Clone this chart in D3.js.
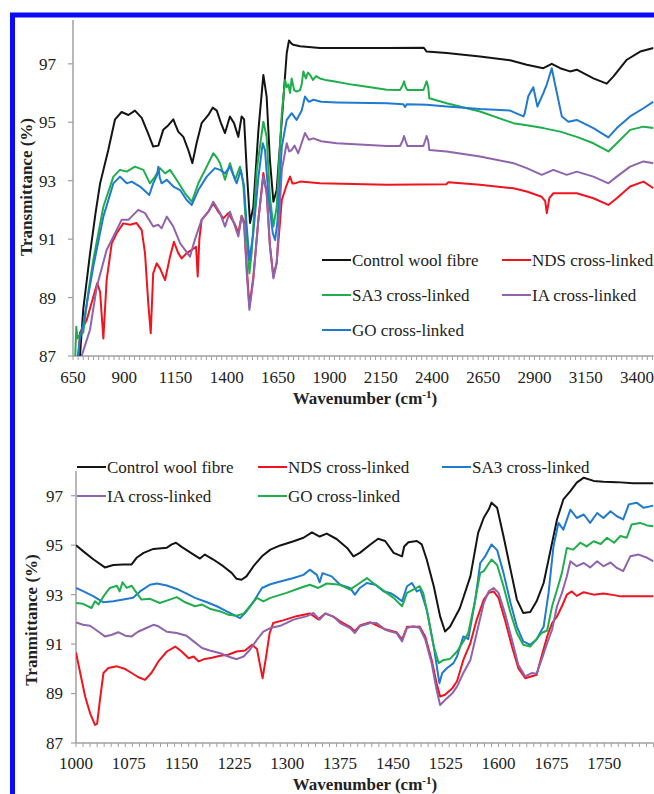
<html>
<script src="https://cdnjs.cloudflare.com/ajax/libs/d3/7.8.5/d3.min.js"></script>
<style>
    body { margin: 0; background: #fff; }
</style>

<body>
    <script>
        var width = 654;
        var height = 794;
        var serif = "'Liberation Serif', 'DejaVu Serif', serif";

        // series names + colours (top and bottom panels use different colour mapping)
        var topNames = ["Control wool fibre", "NDS cross-linked", "SA3 cross-linked", "IA cross-linked", "GO cross-linked"];
        var bottomNames = ["Control wool fibre", "NDS cross-linked", "SA3 cross-linked", "IA cross-linked", "GO cross-linked"];
        var black = "#141414", red = "#f0141e", green = "#1fae4c", blue = "#1f7ad0", purple = "#9064ac";
        var topColors = [black, red, green, purple, blue];
        var bottomColors = [black, red, blue, purple, green];

        var topXTicks = [650, 900, 1150, 1400, 1650, 1900, 2150, 2400, 2650, 2900, 3150, 3400];
        var bottomXTicks = [1000, 1075, 1150, 1225, 1300, 1375, 1450, 1525, 1600, 1675, 1750];
        var yTicks = [87, 89, 91, 93, 95, 97];

        // top panel, [wavenumber, transmittance]
        var topControl = [[650, 84], [684, 87], [700, 88.6], [733, 90.5], [760, 91.9], [782, 92.9], [822, 94.05], [855, 95.1], [887, 95.35], [920, 95.25], [952, 95.4], [985, 95.15], [1017, 94.6], [1041, 94.17], [1066, 94.2], [1090, 94.74], [1115, 94.9], [1139, 95.1], [1150, 94.9], [1163, 94.68], [1188, 94.5], [1212, 94.05], [1232, 93.6], [1253, 94.3], [1277, 94.97], [1310, 95.25], [1331, 95.5], [1351, 95.4], [1370, 95.0], [1391, 94.63], [1415, 95.2], [1435, 94.97], [1456, 94.5], [1472, 95.2], [1484, 95.1], [1497, 93.37], [1513, 91.55], [1529, 92.1], [1554, 94.74], [1578, 96.62], [1594, 95.88], [1610, 93.7], [1627, 92.28], [1643, 92.68], [1668, 95.08], [1692, 97.37], [1703, 97.8], [1714, 97.7], [1724, 97.65], [1757, 97.6], [1854, 97.54], [2180, 97.54], [2360, 97.55], [2374, 97.42], [2472, 97.37], [2634, 97.25], [2781, 97.12], [2862, 96.97], [2943, 96.85], [2984, 97.0], [3025, 96.85], [3073, 96.74], [3106, 96.8], [3187, 96.5], [3252, 96.32], [3285, 96.57], [3350, 97.14], [3415, 97.42], [3480, 97.54]];
        var topNDS = [[660, 85], [684, 87.8], [717, 88.23], [749, 89.03], [768, 89.49], [782, 89.2], [798, 87.6], [814, 89.6], [839, 90.86], [863, 91.2], [895, 91.54], [928, 91.49], [960, 91.55], [985, 91.31], [1001, 90.52], [1017, 88.8], [1029, 87.78], [1041, 89.83], [1058, 90.17], [1074, 90.0], [1099, 89.6], [1123, 90.4], [1142, 90.91], [1163, 90.52], [1180, 90.34], [1204, 90.52], [1229, 90.63], [1250, 90.74], [1258, 89.72], [1266, 91.0], [1277, 91.66], [1310, 91.94], [1334, 92.23], [1358, 91.94], [1383, 91.71], [1407, 91.89], [1440, 91.5], [1456, 91.2], [1472, 91.8], [1484, 91.6], [1497, 90.06], [1510, 88.69], [1529, 89.7], [1554, 91.7], [1578, 93.26], [1594, 92.6], [1610, 90.8], [1627, 89.72], [1643, 90.2], [1668, 92.34], [1692, 92.86], [1708, 93.14], [1720, 92.9], [1733, 92.91], [1757, 92.97], [1854, 92.91], [2180, 92.86], [2470, 92.88], [2480, 92.95], [2634, 92.86], [2797, 92.74], [2862, 92.63], [2935, 92.45], [2952, 92.3], [2960, 91.89], [2972, 92.4], [2992, 92.57], [3106, 92.57], [3187, 92.4], [3260, 92.17], [3301, 92.4], [3366, 92.8], [3431, 92.97], [3480, 92.74]];
        var topSA3 = [[655, 85], [662, 87.2], [666, 88.0], [672, 87.6], [680, 87.7], [700, 87.8], [725, 89.2], [749, 90.29], [798, 92.11], [847, 93.14], [879, 93.37], [912, 93.31], [952, 93.48], [993, 93.37], [1025, 92.91], [1050, 93.14], [1074, 93.43], [1099, 93.25], [1123, 93.37], [1155, 93.03], [1196, 92.57], [1229, 92.28], [1261, 92.91], [1302, 93.48], [1334, 93.94], [1350, 93.8], [1367, 93.6], [1391, 93.03], [1415, 93.6], [1440, 93.03], [1464, 93.48], [1480, 92.91], [1497, 91.09], [1510, 89.83], [1521, 90.52], [1546, 93.37], [1578, 95.02], [1594, 94.5], [1610, 92.45], [1627, 91.43], [1643, 92.11], [1668, 95.31], [1684, 96.45], [1692, 96.2], [1700, 96.3], [1708, 96.0], [1716, 96.5], [1728, 96.1], [1740, 96.05], [1757, 96.1], [1765, 96.3], [1773, 96.74], [1785, 96.5], [1795, 96.7], [1806, 96.62], [1820, 96.45], [1835, 96.58], [1854, 96.5], [1880, 96.45], [1920, 96.4], [2017, 96.28], [2100, 96.2], [2180, 96.11], [2244, 96.1], [2256, 96.25], [2264, 96.4], [2272, 96.2], [2280, 96.1], [2358, 96.1], [2366, 96.25], [2374, 96.4], [2382, 96.2], [2387, 95.82], [2472, 95.65], [2634, 95.37], [2797, 94.97], [2862, 94.9], [2943, 94.8], [3025, 94.68], [3106, 94.5], [3187, 94.28], [3260, 94.0], [3301, 94.28], [3366, 94.74], [3431, 94.85], [3480, 94.8]];
        var topIA = [[670, 85], [692, 87], [733, 87.9], [766, 89.37], [814, 90.63], [855, 91.2], [887, 91.66], [920, 91.66], [968, 92.0], [1001, 91.89], [1041, 91.43], [1066, 91.49], [1082, 91.37], [1107, 91.77], [1139, 91.43], [1172, 90.86], [1196, 90.63], [1220, 90.4], [1245, 91.0], [1277, 91.66], [1310, 91.94], [1334, 92.28], [1367, 91.89], [1391, 91.43], [1415, 91.94], [1440, 91.43], [1456, 91.09], [1472, 91.77], [1484, 91.5], [1497, 89.83], [1510, 88.58], [1529, 89.6], [1554, 91.66], [1578, 93.14], [1594, 92.57], [1610, 90.74], [1627, 89.66], [1643, 90.17], [1668, 93.37], [1692, 94.28], [1704, 94.0], [1716, 94.05], [1730, 94.2], [1748, 93.94], [1765, 94.3], [1781, 94.63], [1800, 94.4], [1822, 94.45], [1860, 94.35], [1936, 94.28], [2180, 94.19], [2244, 94.19], [2256, 94.35], [2264, 94.53], [2272, 94.35], [2280, 94.19], [2358, 94.19], [2366, 94.35], [2374, 94.53], [2382, 94.35], [2387, 94.05], [2472, 94.0], [2634, 93.83], [2797, 93.6], [2862, 93.43], [2935, 93.2], [2992, 93.37], [3057, 93.2], [3106, 93.31], [3187, 93.14], [3260, 92.91], [3301, 93.14], [3366, 93.48], [3431, 93.66], [3480, 93.6]];
        var topGO = [[660, 85], [670, 86.8], [684, 87.6], [700, 88.1], [749, 90.06], [798, 91.77], [847, 92.91], [879, 93.14], [912, 92.91], [936, 92.97], [977, 92.8], [1022, 92.51], [1041, 92.91], [1060, 93.2], [1066, 93.48], [1073, 93.1], [1082, 92.91], [1107, 93.03], [1139, 92.8], [1172, 92.68], [1204, 92.34], [1229, 92.17], [1261, 92.68], [1302, 93.14], [1342, 93.43], [1367, 93.37], [1391, 93.25], [1415, 93.48], [1448, 92.91], [1468, 93.37], [1484, 92.8], [1497, 91.43], [1510, 90.29], [1529, 91.2], [1554, 93.14], [1575, 94.28], [1586, 94.05], [1603, 92.45], [1624, 91.2], [1635, 90.97], [1646, 91.55], [1668, 94.17], [1692, 95.08], [1716, 95.31], [1740, 95.08], [1765, 95.4], [1781, 95.88], [1800, 95.7], [1822, 95.77], [1860, 95.7], [1936, 95.68], [2180, 95.65], [2260, 95.62], [2269, 95.52], [2278, 95.62], [2374, 95.6], [2472, 95.54], [2634, 95.45], [2781, 95.4], [2846, 95.2], [2852, 95.3], [2870, 95.9], [2894, 96.2], [2914, 95.54], [2943, 96.0], [2960, 96.3], [2984, 96.85], [3000, 96.3], [3033, 95.2], [3065, 95.02], [3106, 95.08], [3187, 94.8], [3260, 94.48], [3301, 94.8], [3366, 95.2], [3431, 95.48], [3480, 95.71]];

        // bottom panel (zoomed 1000-1820)
        var botControl = [[1000, 95.0], [1010, 94.76], [1025, 94.42], [1041, 94.1], [1053, 94.2], [1067, 94.22], [1079, 94.22], [1086, 94.49], [1096, 94.69], [1110, 94.85], [1129, 94.9], [1136, 95.03], [1142, 95.1], [1150, 94.93], [1167, 94.62], [1176, 94.46], [1183, 94.62], [1195, 94.42], [1209, 94.15], [1221, 93.88], [1228, 93.64], [1235, 93.6], [1242, 93.74], [1252, 94.15], [1264, 94.55], [1276, 94.82], [1290, 94.99], [1309, 95.16], [1323, 95.3], [1335, 95.52], [1346, 95.35], [1356, 95.47], [1370, 95.25], [1385, 94.89], [1394, 94.55], [1403, 94.69], [1418, 95.03], [1429, 95.26], [1439, 95.17], [1451, 94.69], [1463, 94.55], [1466, 94.95], [1472, 95.12], [1484, 95.17], [1491, 95.03], [1498, 94.42], [1508, 93.34], [1517, 92.12], [1524, 91.51], [1531, 91.7], [1545, 92.45], [1560, 93.74], [1571, 95.5], [1579, 96.11], [1586, 96.44], [1590, 96.72], [1598, 96.51], [1607, 95.36], [1617, 94.01], [1626, 92.8], [1635, 92.26], [1645, 92.3], [1654, 92.73], [1664, 93.47], [1673, 94.69], [1683, 96.04], [1692, 96.85], [1702, 97.19], [1711, 97.53], [1721, 97.73], [1735, 97.6], [1749, 97.57], [1768, 97.55], [1791, 97.5], [1820, 97.5]];
        var botNDS = [[1000, 90.66], [1006, 89.83], [1013, 88.88], [1020, 88.2], [1027, 87.73], [1030, 87.78], [1034, 88.74], [1039, 89.83], [1046, 90.03], [1058, 90.1], [1070, 89.99], [1079, 89.83], [1088, 89.67], [1098, 89.55], [1107, 89.83], [1117, 90.3], [1129, 90.7], [1141, 90.9], [1150, 90.7], [1160, 90.43], [1167, 90.5], [1174, 90.3], [1183, 90.4], [1193, 90.45], [1205, 90.53], [1216, 90.57], [1228, 90.7], [1240, 90.74], [1250, 90.97], [1257, 90.8], [1261, 90.2], [1265, 89.62], [1270, 90.5], [1275, 91.45], [1280, 91.85], [1294, 91.96], [1313, 92.13], [1332, 92.24], [1344, 92.0], [1354, 92.24], [1366, 92.1], [1375, 91.92], [1389, 91.7], [1396, 91.52], [1403, 91.75], [1418, 91.88], [1439, 91.6], [1455, 91.48], [1463, 91.18], [1470, 91.7], [1488, 91.7], [1496, 91.3], [1505, 90.36], [1512, 89.42], [1517, 88.88], [1524, 88.95], [1534, 89.2], [1541, 89.5], [1550, 90.36], [1560, 91.04], [1569, 91.99], [1579, 92.8], [1586, 93.07], [1593, 93.13], [1600, 92.87], [1609, 91.99], [1619, 90.9], [1628, 90.03], [1638, 89.62], [1647, 89.7], [1654, 89.75], [1661, 90.5], [1669, 91.31], [1676, 91.85], [1683, 92.12], [1690, 92.53], [1697, 93.0], [1704, 93.13], [1711, 92.95], [1721, 93.1], [1735, 93.0], [1749, 93.05], [1764, 92.98], [1773, 92.93], [1791, 92.93], [1820, 92.93]];
        var botSA3 = [[1000, 93.27], [1010, 93.14], [1025, 92.93], [1039, 92.69], [1053, 92.73], [1067, 92.8], [1081, 92.87], [1091, 93.13], [1105, 93.4], [1115, 93.45], [1129, 93.37], [1143, 93.23], [1155, 93.07], [1169, 92.87], [1186, 92.69], [1200, 92.53], [1214, 92.32], [1228, 92.12], [1233, 92.05], [1242, 92.32], [1254, 92.8], [1264, 93.27], [1276, 93.42], [1290, 93.53], [1309, 93.67], [1323, 93.8], [1332, 94.01], [1342, 93.8], [1346, 93.5], [1350, 93.87], [1363, 93.74], [1375, 93.4], [1389, 93.27], [1396, 93.0], [1403, 93.27], [1413, 93.47], [1425, 93.4], [1437, 93.13], [1446, 93.07], [1453, 92.95], [1463, 92.73], [1470, 93.34], [1477, 93.47], [1484, 93.13], [1489, 93.2], [1498, 92.39], [1508, 90.9], [1516, 89.42], [1520, 89.83], [1527, 90.03], [1536, 90.23], [1541, 90.5], [1550, 91.31], [1557, 91.2], [1567, 92.8], [1574, 94.28], [1581, 94.55], [1590, 95.03], [1598, 94.8], [1607, 93.88], [1617, 92.66], [1626, 91.71], [1635, 91.11], [1645, 90.97], [1654, 91.2], [1664, 91.71], [1671, 93.07], [1678, 94.96], [1685, 95.9], [1692, 95.63], [1702, 96.44], [1711, 96.1], [1721, 96.24], [1730, 95.9], [1740, 96.3], [1749, 96.1], [1759, 96.37], [1768, 96.17], [1777, 96.04], [1785, 96.65], [1796, 96.72], [1806, 96.51], [1820, 96.6]];
        var botIA = [[1000, 91.88], [1010, 91.78], [1020, 91.74], [1032, 91.5], [1041, 91.31], [1051, 91.38], [1060, 91.48], [1070, 91.34], [1079, 91.31], [1088, 91.5], [1100, 91.65], [1110, 91.78], [1117, 91.72], [1129, 91.5], [1143, 91.45], [1157, 91.34], [1167, 91.11], [1179, 90.84], [1190, 90.74], [1205, 90.63], [1216, 90.5], [1228, 90.39], [1238, 90.5], [1247, 90.77], [1257, 91.18], [1266, 91.5], [1276, 91.65], [1290, 91.74], [1309, 91.99], [1328, 92.13], [1337, 92.26], [1346, 91.99], [1354, 92.24], [1366, 92.1], [1375, 91.85], [1389, 91.65], [1396, 91.45], [1403, 91.72], [1418, 91.85], [1427, 91.85], [1439, 91.58], [1448, 91.5], [1455, 91.45], [1463, 91.11], [1470, 91.65], [1479, 91.72], [1488, 91.65], [1496, 91.18], [1505, 90.23], [1512, 89.15], [1517, 88.54], [1524, 88.74], [1534, 89.0], [1541, 89.28], [1550, 89.83], [1560, 90.36], [1569, 91.45], [1579, 92.66], [1586, 93.13], [1593, 93.27], [1600, 93.07], [1609, 92.26], [1619, 91.18], [1628, 90.16], [1638, 89.69], [1647, 89.83], [1654, 89.8], [1661, 90.36], [1669, 91.04], [1676, 91.58], [1683, 92.53], [1690, 93.07], [1697, 93.74], [1702, 94.35], [1711, 94.15], [1721, 94.28], [1730, 94.1], [1740, 94.35], [1749, 94.15], [1759, 94.3], [1768, 94.08], [1777, 93.95], [1787, 94.55], [1799, 94.62], [1811, 94.49], [1820, 94.35]];
        var botGO = [[1000, 92.66], [1010, 92.63], [1022, 92.46], [1027, 92.73], [1032, 92.6], [1039, 92.93], [1048, 93.27], [1058, 93.36], [1062, 93.13], [1066, 93.5], [1072, 93.27], [1079, 93.36], [1086, 93.07], [1093, 92.8], [1105, 92.83], [1119, 92.66], [1133, 92.8], [1143, 92.9], [1155, 92.69], [1169, 92.53], [1179, 92.6], [1190, 92.43], [1205, 92.32], [1216, 92.19], [1228, 92.15], [1238, 92.23], [1247, 92.53], [1257, 92.87], [1266, 92.73], [1276, 92.87], [1299, 93.07], [1318, 93.27], [1332, 93.4], [1344, 93.27], [1356, 93.45], [1375, 93.4], [1389, 93.2], [1403, 93.47], [1413, 93.67], [1422, 93.47], [1432, 93.27], [1441, 93.07], [1451, 92.87], [1463, 92.53], [1470, 93.07], [1479, 93.2], [1488, 93.34], [1493, 93.07], [1500, 92.12], [1508, 90.9], [1515, 90.23], [1522, 90.36], [1531, 90.4], [1541, 90.7], [1550, 91.11], [1557, 91.45], [1565, 92.53], [1574, 93.88], [1579, 93.95], [1584, 94.17], [1590, 94.42], [1598, 94.2], [1607, 93.34], [1617, 92.26], [1626, 91.45], [1635, 90.97], [1645, 90.9], [1654, 91.2], [1661, 91.45], [1669, 91.55], [1676, 92.53], [1683, 93.2], [1690, 93.88], [1697, 94.89], [1706, 94.82], [1716, 95.1], [1725, 94.95], [1735, 95.16], [1745, 95.05], [1754, 95.3], [1764, 95.1], [1773, 95.37], [1782, 95.3], [1789, 95.84], [1801, 95.9], [1811, 95.8], [1820, 95.77]];

        var svg = d3.select("body").append("svg")
            .attr("width", width)
            .attr("height", height)
            .attr("font-family", serif)
            .style("font-family", serif)
            .style("display", "block");

        svg.append("rect").attr("width", width).attr("height", height).attr("fill", "#fff");

        function drawPanel(p) {
            var x = d3.scaleLinear().domain(p.xDomain).range([p.left, p.right]);
            var y = d3.scaleLinear().domain(p.yDomain).range([p.bottom, p.top]);
            var g = svg.append("g");

            g.append("clipPath").attr("id", p.id)
                .append("rect")
                .attr("x", p.left).attr("y", p.top)
                .attr("width", p.right - p.left).attr("height", p.bottom - p.top);

            // minor ticks on x axis
            g.selectAll(".minor")
                .data(d3.range(p.xDomain[0], p.xDomain[1] + 0.01, p.minor))
                .enter().append("line")
                .attr("x1", d => x(d)).attr("x2", d => x(d))
                .attr("y1", p.bottom).attr("y2", p.bottom + 4)
                .attr("stroke", "#a0a0a0").attr("stroke-width", 1);

            // x axis line
            g.append("line")
                .attr("x1", p.left).attr("x2", p.right)
                .attr("y1", p.bottom).attr("y2", p.bottom)
                .attr("stroke", "#a0a0a0").attr("stroke-width", 1.5);

            g.selectAll(".xlab")
                .data(p.xTicks)
                .enter().append("text")
                .attr("x", d => x(d))
                .attr("y", p.bottom + p.xLabOff)
                .attr("text-anchor", "middle")
                .attr("font-family", serif)
                .attr("font-size", 17)
                .attr("fill", "#222")
                .text(d => d);

            // y axis
            g.append("line")
                .attr("x1", p.left).attr("x2", p.left)
                .attr("y1", p.bottom).attr("y2", y(p.yDomain[1]))
                .attr("stroke", "#a0a0a0").attr("stroke-width", 1.5);

            g.selectAll(".ytick")
                .data(yTicks)
                .enter().append("line")
                .attr("x1", p.left - 5).attr("x2", p.left)
                .attr("y1", d => y(d)).attr("y2", d => y(d))
                .attr("stroke", "#a0a0a0").attr("stroke-width", 1.2);

            g.selectAll(".ylab")
                .data(yTicks)
                .enter().append("text")
                .attr("x", p.yLabX)
                .attr("y", d => y(d))
                .attr("dy", "0.35em")
                .attr("text-anchor", "end")
                .attr("font-family", serif)
                .attr("font-size", 17)
                .attr("fill", "#222")
                .text(d => d);

            var line = d3.line().x(d => x(d[0])).y(d => y(d[1]));

            g.append("g").attr("clip-path", "url(#" + p.id + ")")
                .selectAll("path")
                .data(p.series)
                .enter().append("path")
                .attr("d", d => line(d))
                .attr("fill", "none")
                .attr("stroke", (d, i) => p.colors[i])
                .attr("stroke-width", 2)
                .attr("stroke-linejoin", "round");

            // legend
            var leg = g.selectAll(".leg")
                .data(p.names)
                .enter().append("g")
                .attr("transform", (d, i) => `translate(${p.legend[i][0]},${p.legend[i][1]})`);
            leg.append("line")
                .attr("x1", 0).attr("x2", 29)
                .attr("stroke", (d, i) => p.colors[i])
                .attr("stroke-width", 2);
            leg.append("text")
                .attr("x", 30)
                .attr("dy", "0.35em")
                .attr("font-family", serif)
                .attr("font-size", 17)
                .attr("fill", "#222")
                .text(d => d);

            // axis titles
            var xt = g.append("text")
                .attr("x", p.xTitle[0]).attr("y", p.xTitle[1])
                .attr("text-anchor", "middle")
                .attr("font-family", serif)
                .attr("font-size", 17).attr("font-weight", "bold")
                .attr("fill", "#222");
            xt.append("tspan").text("Wavenumber (cm");
            xt.append("tspan").attr("font-size", 11).attr("dy", -6).text("-1");
            xt.append("tspan").attr("dy", 6).text(")");

            g.append("text")
                .attr("transform", `translate(${p.yTitle[0]},${p.yTitle[1]}) rotate(-90)`)
                .attr("text-anchor", "middle")
                .attr("dy", "0.35em")
                .attr("font-family", serif)
                .attr("font-size", 17).attr("font-weight", "bold")
                .attr("fill", "#222")
                .text(p.yTitleText);
        }

        drawPanel({
            id: "clipTop",
            xDomain: [650, 3480], yDomain: [87, 98.5],
            left: 73, right: 653.5, top: 20, bottom: 356,
            minor: 25, xTicks: topXTicks, xLabOff: 27, yLabX: 56,
            series: [topControl, topNDS, topSA3, topIA, topGO],
            names: topNames, colors: topColors,
            legend: [[322, 260], [502, 260], [322, 295], [502, 295], [322, 330]],
            xTitle: [365, 404], yTitle: [26, 187], yTitleText: "Transmittance (%)"
        });

        drawPanel({
            id: "clipBottom",
            xDomain: [1000, 1820], yDomain: [87, 98],
            left: 76, right: 653.5, top: 471, bottom: 743,
            minor: 10, xTicks: bottomXTicks, xLabOff: 26, yLabX: 63,
            series: [botControl, botNDS, botSA3, botIA, botGO],
            names: bottomNames, colors: bottomColors,
            legend: [[77, 467], [258, 467], [442, 467], [77, 496], [258, 496]],
            xTitle: [365, 790], yTitle: [31, 620], yTitleText: "Tranmittance (%)"
        });

        // blue frame round the figure
        svg.append("rect")
            .attr("x", 12.5).attr("y", 15)
            .attr("width", width + 20).attr("height", height + 20)
            .attr("fill", "none")
            .attr("stroke", "#0a0aff")
            .attr("stroke-width", 5);
    </script>
</body>

</html>
